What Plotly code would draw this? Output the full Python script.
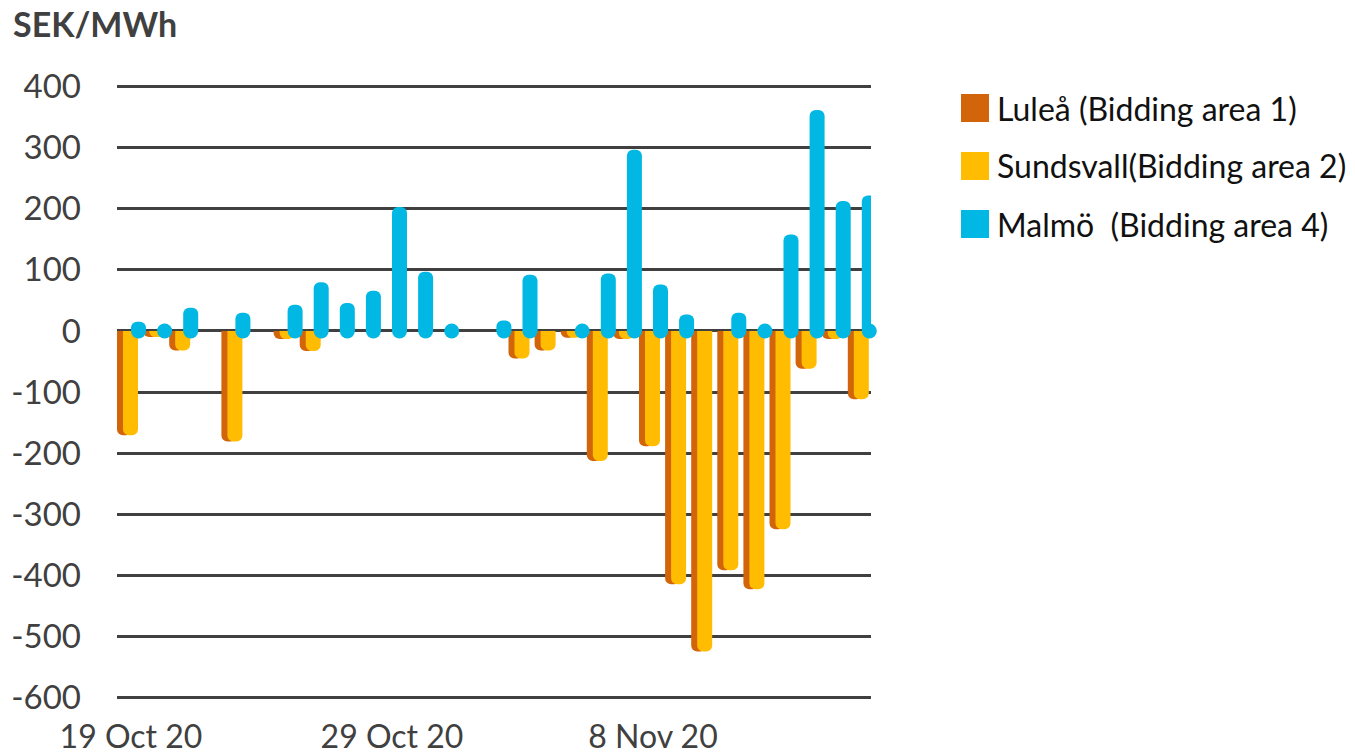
import pandas as pd
import plotly.graph_objects as go

# Daily area price difference, SEK/MWh (None = no value that day)
dates = pd.date_range("2020-10-19", "2020-11-16", freq="D")

lulea = [-171, -10, -32, None, -181, None, -13, -33, None, None,
         None, None, None, None, None, -45, -32, -11, -213, -13,
         -189, -415, -525, -392, -423, -325, -62, -13, -112]
sundsvall = [-171, -10, -32, None, -181, None, -13, -33, None, None,
             None, None, None, None, None, -45, -32, -11, -213, -13,
             -189, -415, -525, -392, -423, -325, -62, -13, -112]
malmo = [15, 10, 38, None, 30, None, 43, 80, 46, 66,
         203, 97, 0, None, 17, 92, None, 0, 94, 297,
         76, 27, None, 30, 5, 158, 362, 213, 222]

series_names = ["Luleå (Bidding area 1)", "Sundsvall(Bidding area 2)",
                "Malmö\u00a0 (Bidding area 4)"]
series_colors = ["#D2640A", "#FFBC00", "#00B8E3"]

y_ticks = list(range(-600, 401, 100))
y_tick_text = [str(v) for v in y_ticks]
x_tick_dates = ["2020-10-19", "2020-10-29", "2020-11-08"]
x_tick_text = ["19 Oct 20", "29 Oct 20", "8 Nov 20"]

# ---- geometry (pixels) ----
W, H = 1355, 755
PL, PR, PT, PB = 117, 871, 85, 699
Y_RANGE = [-603, 403]   # a little headroom so the end gridlines are kept
DAY_PX = 26.1
FIRST_CENTER_PX = 131
BAR_PX = 15
MS_DAY = 86400000

bar_w = BAR_PX / DAY_PX * MS_DAY
bar_offsets = [-14 / DAY_PX * MS_DAY, -8 / DAY_PX * MS_DAY, 0.0]

x_start = dates[0] - pd.Timedelta(days=(FIRST_CENTER_PX - PL) / DAY_PX)
x_end = dates[0] + pd.Timedelta(days=(PR - FIRST_CENTER_PX) / DAY_PX)

fig = go.Figure()
for vals, name, color, off in zip([lulea, sundsvall, malmo], series_names,
                                  series_colors, bar_offsets):
    fig.add_trace(go.Bar(
        x=dates, y=vals, name=name, width=bar_w, offset=off,
        marker=dict(color=color, line=dict(width=0), cornerradius=6),
        cliponaxis=False, showlegend=False,
    ))

# rounded foot of each Malmö bar (also shows the zero days as dots)
foot_x = [d + pd.Timedelta(milliseconds=bar_offsets[2] + bar_w / 2)
          for d, v in zip(dates, malmo) if v is not None]
fig.add_trace(go.Scatter(
    x=foot_x, y=[0] * len(foot_x), mode="markers",
    marker=dict(size=BAR_PX, color=series_colors[2], line=dict(width=0)),
    cliponaxis=False, hoverinfo="skip", showlegend=False,
))

# legend drawn as swatches + labels to the right of the plot
def px_x(p):
    return (p - PL) / (PR - PL)

def px_y(p):
    return (PB - p) / (PB - PT)

legend_rows = [108, 166, 224]
for name, color, yc in zip(series_names, series_colors, legend_rows):
    fig.add_shape(type="rect", xref="paper", yref="paper",
                  x0=px_x(961), x1=px_x(989), y0=px_y(yc + 14), y1=px_y(yc - 14),
                  fillcolor=color, line=dict(width=0))
    fig.add_annotation(xref="paper", yref="paper", x=px_x(995), y=px_y(yc),
                       xanchor="left", yanchor="middle", showarrow=False,
                       text=name, font=dict(family="Lato", size=32, color="#111111"))

fig.update_layout(
    width=W, height=H,
    margin=dict(l=PL, r=W - PR, t=PT, b=H - PB, autoexpand=False),
    paper_bgcolor="white", plot_bgcolor="white",
    barmode="overlay",
    font=dict(family="Lato", size=33, color="#404040"),
    title=dict(text="<b>SEK/MWh</b>", xref="container", yref="container",
               x=13 / W, y=1 - 25 / H, xanchor="left", yanchor="middle",
               font=dict(family="Lato", size=34, color="#404040")),
    xaxis=dict(type="date", range=[x_start, x_end], tickvals=x_tick_dates,
               ticktext=x_tick_text, showgrid=False, zeroline=False,
               showline=False, ticks="", ticklabelstandoff=16,
               tickfont=dict(size=32), automargin=False),
    yaxis=dict(range=Y_RANGE, tickvals=y_ticks, ticktext=y_tick_text,
               showgrid=True, gridcolor="#404040", gridwidth=2.5,
               zeroline=False, showline=False, ticks="", ticklabelstandoff=35,
               automargin=False),
)

fig.write_html("out.html")
